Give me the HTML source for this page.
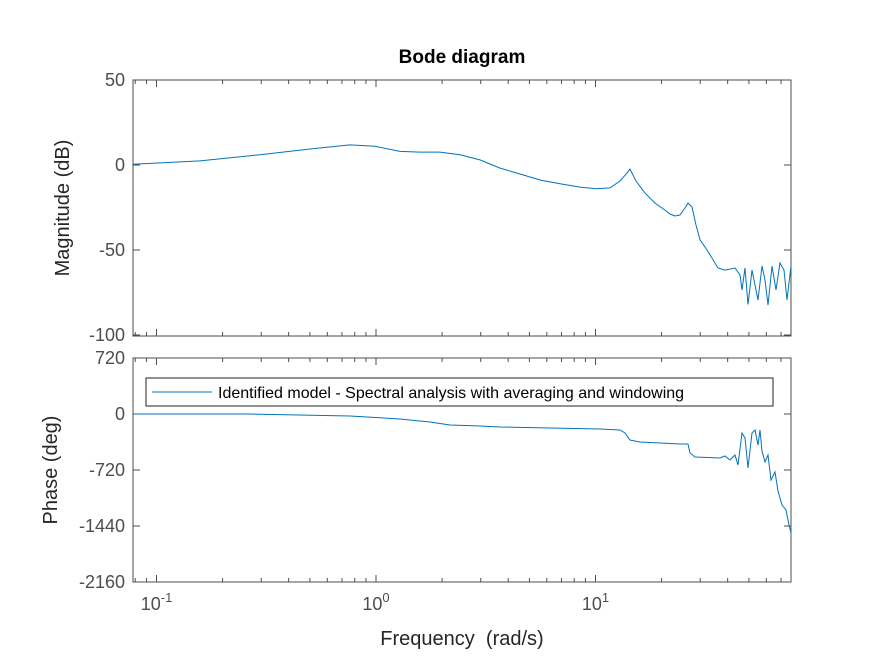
<!DOCTYPE html>
<html><head><meta charset="utf-8"><style>
body{margin:0;background:#fff;}
svg{font-family:"Liberation Sans",Arial,sans-serif;}
</style></head><body>
<svg id="c" width="875" height="656" viewBox="0 0 875 656" xmlns="http://www.w3.org/2000/svg">
<rect width="875" height="656" fill="#fff"/>
<text x="462" y="63" text-anchor="middle" font-size="19" font-weight="bold" fill="#000">Bode diagram</text>
<text x="462" y="645" text-anchor="middle" font-size="20" fill="#262626" xml:space="preserve">Frequency  (rad/s)</text>
<text transform="translate(69,208) rotate(-90)" text-anchor="middle" font-size="20" fill="#262626">Magnitude (dB)</text>
<text transform="translate(57,470) rotate(-90)" text-anchor="middle" font-size="20" fill="#262626">Phase (deg)</text>
<g id="g"></g>
</svg>
<script>
const magFreqPx = [133,200,260,310,350,375,400,420,440,460,480,500,520,540,560,580,596,610,620,628,630,636,645,655,665,670,675,680,685,688,692,696,700,707,712,718,725,735,740,742,745,748,752,758,762,765,768,772,776,780,784,787,791];
const magFreqs = magFreqPx.map(x=>Math.pow(10,(x-376)/219.5));
const magDb = [0.4,2.4,6,9.4,11.8,11,8,7.6,7.6,6,3,-1.8,-5.3,-8.8,-11,-13,-14,-13.5,-9.4,-4,-2.4,-9.4,-16.5,-22.4,-26.5,-28.8,-30,-29.4,-25.3,-22.4,-24.7,-35.3,-44,-50,-54.7,-60.6,-61.8,-60.6,-64.7,-73.5,-60.6,-82,-61.8,-79.4,-59.4,-67.6,-82.4,-59.4,-73.5,-57.6,-61.8,-79.4,-59.4];
const phFreqPx = [133,250,350,400,430,450,480,500,550,600,620,625,630,640,680,688,690,695,720,725,730,735,738,742,745,748,752,755,758,760,762,765,768,771,775,778,782,786,789,791];
const phFreqs = phFreqPx.map(x=>Math.pow(10,(x-376)/219.5));
const phDeg = [0,0,-26,-64,-103,-141,-154,-167,-180,-193,-206,-244,-334,-360,-386,-386,-501,-553,-566,-540,-591,-527,-656,-244,-309,-694,-244,-206,-399,-206,-476,-617,-527,-849,-746,-990,-1170,-1234,-1427,-1530];
const magTicks = [50,0,-50,-100];
const magTickLabels = ["50","0","-50","-100"];
const phTicks = [720,0,-720,-1440,-2160];
const phTickLabels = ["720","0","-720","-1440","-2160"];
const xDecades = [0.1,1,10];

const L=133,R=791,T1=80,B1=336,T2=358,B2=582;
const lx=f=>376+219.5*Math.log10(f);
const ym=d=>165-d*(85/50);
const yp=p=>414-p*(56/720);
const g=document.getElementById('g');
const NS='http://www.w3.org/2000/svg';
function mk(t,a){const e=document.createElementNS(NS,t);for(const k in a)e.setAttribute(k,a[k]);g.appendChild(e);return e;}
const ax='#4d4d4d';

let e=mk('rect',{x:L,y:T1,width:R-L,height:B1-T1,fill:'#fff',stroke:ax,'stroke-width':1});


e=mk('rect',{x:L,y:T2,width:R-L,height:B2-T2,fill:'#fff',stroke:ax,'stroke-width':1});



for(let d=-2;d<=1;d++){for(let m=1;m<=9;m++){const f=m*Math.pow(10,d);const x=lx(f);if(x<L||x>R)continue;const len=m===1?7:4;
 for(const [t,b] of [[T1,B1],[T2,B2]]){
  e=mk('line',{x1:x,x2:x,y1:b,y2:b-len,stroke:ax});
  
  
  e=mk('line',{x1:x,x2:x,y1:t,y2:t+len,stroke:ax});
  
  
 }}}
xDecades.forEach(f=>{const x=lx(f);const p=Math.round(Math.log10(f));
 e=mk('text',{x:x,y:610,'text-anchor':'middle','font-size':18,fill:ax});
 e.innerHTML='10<tspan font-size="13" dy="-8">'+p+'</tspan>';
 
 
});
function yt(vals,labs,yf){vals.forEach((v,i)=>{const y=yf(v);
 e=mk('line',{x1:L,x2:L+7,y1:y,y2:y,stroke:ax});
 
 
 e=mk('line',{x1:R,x2:R-7,y1:y,y2:y,stroke:ax});
 
 
 e=mk('text',{x:L-8,y:y+6,'text-anchor':'end','font-size':18,fill:ax});
 e.textContent=labs[i];
 
 
});}
yt(magTicks,magTickLabels,ym);yt(phTicks,phTickLabels,yp);

e=mk('polyline',{points:magFreqs.map((f,i)=>lx(f).toFixed(1)+','+ym(magDb[i]).toFixed(1)).join(' '),fill:'none',stroke:'#0072bd','stroke-width':1});


e=mk('polyline',{points:phFreqs.map((f,i)=>lx(f).toFixed(1)+','+yp(phDeg[i]).toFixed(1)).join(' '),fill:'none',stroke:'#0072bd','stroke-width':1});



e=mk('rect',{x:146,y:378,width:627,height:28,fill:'#fff',stroke:'#262626'});


e=mk('line',{x1:152,x2:212,y1:392,y2:392,stroke:'#0072bd'});


e=mk('text',{x:218,y:398,'font-size':16,fill:'#000'});
e.textContent='Identified model - Spectral analysis with averaging and windowing';


</script>
</body></html>
